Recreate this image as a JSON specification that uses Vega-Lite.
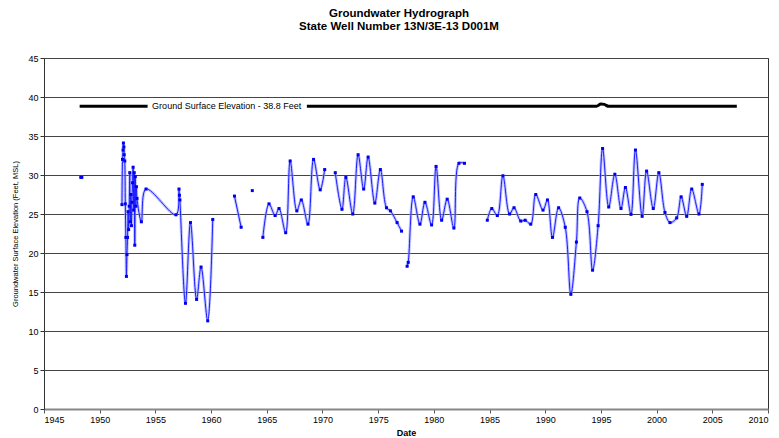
{
  "$schema": "https://vega.github.io/schema/vega-lite/v6.json",
  "width": 724,
  "height": 351,
  "autosize": "none",
  "padding": {"left": 44, "top": 58, "right": 11, "bottom": 29},
  "background": "white",
  "title": {
    "text": ["Groundwater Hydrograph", "State Well Number 13N/3E-13 D001M"],
    "font": "Liberation Sans",
    "fontSize": 11.5,
    "fontWeight": "bold",
    "color": "black",
    "anchor": "middle",
    "offset": 22,
    "lineHeight": 13,
    "dx": -7
  },
  "config": {
    "view": {"stroke": "#333", "strokeWidth": 1},
    "font": "Liberation Sans"
  },
  "datasets": {
    "obs": [
      {"year": 1948.3, "value": 29.7, "seg": "A"},
      {"year": 1948.4, "value": 29.7, "seg": "A"},
      {"year": 1952.0, "value": 26.2, "seg": "B"},
      {"year": 1952.05, "value": 32.0, "seg": "B"},
      {"year": 1952.1, "value": 33.2, "seg": "B"},
      {"year": 1952.13, "value": 34.1, "seg": "B"},
      {"year": 1952.17, "value": 33.6, "seg": "B"},
      {"year": 1952.2, "value": 32.6, "seg": "B"},
      {"year": 1952.25, "value": 31.8, "seg": "B"},
      {"year": 1952.3, "value": 26.3, "seg": "B"},
      {"year": 1952.35, "value": 22.0, "seg": "B"},
      {"year": 1952.4, "value": 17.0, "seg": "B"},
      {"year": 1952.45, "value": 19.8, "seg": "B"},
      {"year": 1952.5, "value": 22.0, "seg": "B"},
      {"year": 1952.55, "value": 25.3, "seg": "B"},
      {"year": 1952.6, "value": 23.0, "seg": "B"},
      {"year": 1952.65, "value": 26.0, "seg": "B"},
      {"year": 1952.7, "value": 30.3, "seg": "B"},
      {"year": 1952.75, "value": 24.0, "seg": "B"},
      {"year": 1952.8, "value": 27.5, "seg": "B"},
      {"year": 1952.85, "value": 23.5, "seg": "B"},
      {"year": 1952.9, "value": 26.5, "seg": "B"},
      {"year": 1952.95, "value": 29.0, "seg": "B"},
      {"year": 1953.0, "value": 31.0, "seg": "B"},
      {"year": 1953.05, "value": 25.5, "seg": "B"},
      {"year": 1953.1, "value": 30.3, "seg": "B"},
      {"year": 1953.15, "value": 21.0, "seg": "B"},
      {"year": 1953.2, "value": 29.8, "seg": "B"},
      {"year": 1953.25, "value": 26.0, "seg": "B"},
      {"year": 1953.3, "value": 28.5, "seg": "B"},
      {"year": 1953.35, "value": 27.0, "seg": "B"},
      {"year": 1953.74, "value": 24.0, "seg": "B"},
      {"year": 1954.16, "value": 28.2, "seg": "B"},
      {"year": 1956.85, "value": 24.9, "seg": "B"},
      {"year": 1957.12, "value": 28.2, "seg": "B"},
      {"year": 1957.16, "value": 27.4, "seg": "B"},
      {"year": 1957.2, "value": 26.8, "seg": "B"},
      {"year": 1957.7, "value": 13.55, "seg": "B"},
      {"year": 1958.15, "value": 23.9, "seg": "B"},
      {"year": 1958.7, "value": 14.05, "seg": "B"},
      {"year": 1959.1, "value": 18.2, "seg": "B"},
      {"year": 1959.7, "value": 11.3, "seg": "B"},
      {"year": 1960.15, "value": 24.3, "seg": "B"},
      {"year": 1962.1, "value": 27.3, "seg": "C"},
      {"year": 1962.7, "value": 23.3, "seg": "C"},
      {"year": 1963.7, "value": 28.0, "seg": "D"},
      {"year": 1964.65, "value": 22.0, "seg": "E"},
      {"year": 1965.2, "value": 26.3, "seg": "E"},
      {"year": 1965.75, "value": 24.8, "seg": "E"},
      {"year": 1966.1, "value": 25.7, "seg": "E"},
      {"year": 1966.7, "value": 22.6, "seg": "E"},
      {"year": 1967.1, "value": 31.8, "seg": "E"},
      {"year": 1967.7, "value": 25.4, "seg": "E"},
      {"year": 1968.1, "value": 26.8, "seg": "E"},
      {"year": 1968.7, "value": 23.7, "seg": "E"},
      {"year": 1969.2, "value": 32.0, "seg": "E"},
      {"year": 1969.8, "value": 28.1, "seg": "E"},
      {"year": 1970.2, "value": 30.7, "seg": "E"},
      {"year": 1971.15, "value": 30.3, "seg": "F"},
      {"year": 1971.75, "value": 25.6, "seg": "F"},
      {"year": 1972.1, "value": 29.7, "seg": "F"},
      {"year": 1972.72, "value": 25.0, "seg": "F"},
      {"year": 1973.2, "value": 32.6, "seg": "F"},
      {"year": 1973.7, "value": 28.2, "seg": "F"},
      {"year": 1974.1, "value": 32.3, "seg": "F"},
      {"year": 1974.7, "value": 26.4, "seg": "F"},
      {"year": 1975.2, "value": 30.7, "seg": "F"},
      {"year": 1975.75, "value": 25.8, "seg": "F"},
      {"year": 1976.1, "value": 25.4, "seg": "F"},
      {"year": 1976.7, "value": 23.9, "seg": "F"},
      {"year": 1977.1, "value": 22.8, "seg": "F"},
      {"year": 1977.6, "value": 18.3, "seg": "G"},
      {"year": 1977.7, "value": 18.8, "seg": "G"},
      {"year": 1978.15, "value": 27.2, "seg": "G"},
      {"year": 1978.75, "value": 23.7, "seg": "G"},
      {"year": 1979.2, "value": 26.5, "seg": "G"},
      {"year": 1979.8, "value": 23.6, "seg": "G"},
      {"year": 1980.2, "value": 31.1, "seg": "G"},
      {"year": 1980.7, "value": 24.2, "seg": "G"},
      {"year": 1981.2, "value": 26.9, "seg": "G"},
      {"year": 1981.8, "value": 23.2, "seg": "G"},
      {"year": 1982.25, "value": 31.5, "seg": "G"},
      {"year": 1982.75, "value": 31.5, "seg": "G"},
      {"year": 1984.8, "value": 24.2, "seg": "H"},
      {"year": 1985.2, "value": 25.7, "seg": "H"},
      {"year": 1985.7, "value": 24.8, "seg": "H"},
      {"year": 1986.2, "value": 29.9, "seg": "H"},
      {"year": 1986.8, "value": 25.0, "seg": "H"},
      {"year": 1987.2, "value": 25.8, "seg": "H"},
      {"year": 1987.8, "value": 24.1, "seg": "H"},
      {"year": 1988.2, "value": 24.2, "seg": "H"},
      {"year": 1988.7, "value": 23.7, "seg": "H"},
      {"year": 1989.15, "value": 27.5, "seg": "H"},
      {"year": 1989.8, "value": 25.5, "seg": "H"},
      {"year": 1990.2, "value": 26.8, "seg": "H"},
      {"year": 1990.65, "value": 22.0, "seg": "H"},
      {"year": 1991.2, "value": 25.8, "seg": "H"},
      {"year": 1991.8, "value": 23.3, "seg": "H"},
      {"year": 1992.3, "value": 14.7, "seg": "H"},
      {"year": 1992.8, "value": 21.4, "seg": "H"},
      {"year": 1993.1, "value": 27.05, "seg": "H"},
      {"year": 1993.75, "value": 25.3, "seg": "H"},
      {"year": 1994.25, "value": 17.8, "seg": "H"},
      {"year": 1994.75, "value": 23.5, "seg": "H"},
      {"year": 1995.15, "value": 33.4, "seg": "H"},
      {"year": 1995.7, "value": 25.9, "seg": "H"},
      {"year": 1996.25, "value": 30.1, "seg": "H"},
      {"year": 1996.8, "value": 25.7, "seg": "H"},
      {"year": 1997.2, "value": 28.4, "seg": "H"},
      {"year": 1997.7, "value": 24.95, "seg": "H"},
      {"year": 1998.1, "value": 33.2, "seg": "H"},
      {"year": 1998.7, "value": 24.7, "seg": "H"},
      {"year": 1999.1, "value": 30.5, "seg": "H"},
      {"year": 1999.7, "value": 25.7, "seg": "H"},
      {"year": 2000.2, "value": 30.3, "seg": "H"},
      {"year": 2000.75, "value": 25.2, "seg": "H"},
      {"year": 2001.2, "value": 23.9, "seg": "H"},
      {"year": 2001.8, "value": 24.5, "seg": "H"},
      {"year": 2002.2, "value": 27.2, "seg": "H"},
      {"year": 2002.7, "value": 24.7, "seg": "H"},
      {"year": 2003.15, "value": 28.2, "seg": "H"},
      {"year": 2003.8, "value": 25.0, "seg": "H"},
      {"year": 2004.1, "value": 28.8, "seg": "H"}
    ],
    "ground": [
      {"year": 1948.2, "value": 38.8, "seg": "1"},
      {"year": 1954.3, "value": 38.8, "seg": "1"},
      {"year": 1968.6, "value": 38.8, "seg": "2"},
      {"year": 1994.6, "value": 38.8, "seg": "2"},
      {"year": 1995.0, "value": 39.1, "seg": "2"},
      {"year": 1995.3, "value": 39.05, "seg": "2"},
      {"year": 1995.7, "value": 38.8, "seg": "2"},
      {"year": 2007.2, "value": 38.8, "seg": "2"}
    ],
    "label": [
      {"year": 1961.4, "value": 38.8, "text": "Ground Surface Elevation - 38.8 Feet"}
    ]
  },
  "encoding": {
    "x": {
      "field": "year",
      "type": "quantitative",
      "scale": {"domain": [1945, 2010], "nice": false, "zero": false},
      "axis": {
        "title": "Date",
        "titleFont": "Liberation Sans",
        "titleFontSize": 9,
        "titleFontWeight": "bold",
        "titleColor": "black",
        "titlePadding": 4,
        "values": [1945, 1950, 1955, 1960, 1965, 1970, 1975, 1980, 1985, 1990, 1995, 2000, 2005, 2010],
        "format": "d",
        "labelFont": "Liberation Sans",
        "labelFontSize": 9,
        "labelColor": "black",
        "labelPadding": 2,
        "tickSize": 4,
        "tickColor": "#555",
        "domainColor": "#888",
        "domainWidth": 2,
        "grid": false
      }
    },
    "y": {
      "field": "value",
      "type": "quantitative",
      "scale": {"domain": [0, 45], "nice": false},
      "axis": {
        "title": "Groundwater Surface Elevation (Feet, MSL)",
        "titleFont": "Liberation Sans",
        "titleFontSize": 7.5,
        "titleFontWeight": "normal",
        "titleColor": "black",
        "titlePadding": 8,
        "values": [0, 5, 10, 15, 20, 25, 30, 35, 40, 45],
        "labelFont": "Liberation Sans",
        "labelFontSize": 9,
        "labelColor": "black",
        "tickSize": 4,
        "tickColor": "#333",
        "domainColor": "#333",
        "grid": true,
        "gridColor": "#444",
        "gridWidth": 1
      }
    }
  },
  "layer": [
    {
      "data": {"name": "ground"},
      "mark": {"type": "line", "color": "black", "strokeWidth": 3, "interpolate": "monotone"},
      "encoding": {"detail": {"field": "seg"}}
    },
    {
      "data": {"name": "label"},
      "mark": {"type": "text", "font": "Liberation Sans", "fontSize": 9, "color": "black", "align": "center", "baseline": "middle"},
      "encoding": {"text": {"field": "text"}}
    },
    {
      "data": {"name": "obs"},
      "mark": {"type": "line", "color": "#9aa0ff", "strokeWidth": 3, "opacity": 0.6, "interpolate": "catmull-rom"},
      "encoding": {"detail": {"field": "seg"}}
    },
    {
      "data": {"name": "obs"},
      "mark": {"type": "line", "color": "#1a1aff", "strokeWidth": 1, "interpolate": "catmull-rom"},
      "encoding": {"detail": {"field": "seg"}}
    },
    {
      "data": {"name": "obs"},
      "mark": {"type": "square", "color": "#0000ee", "size": 9, "opacity": 1}
    }
  ]
}
